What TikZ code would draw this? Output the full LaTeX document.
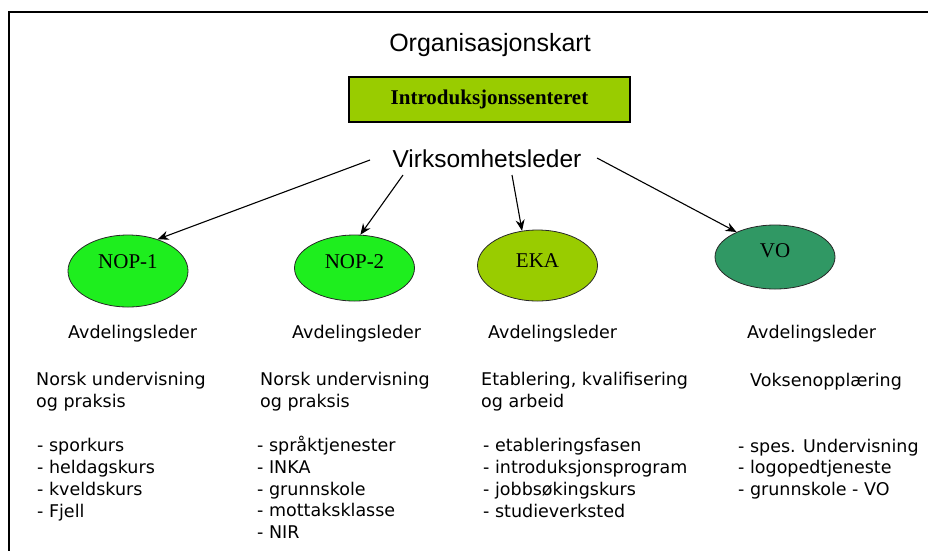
\documentclass[tikz,border=0pt]{standalone}
\usepackage{fontspec}
\setmainfont{Liberation Serif}
\newfontfamily\bodyfont{DejaVu Sans}
\newfontfamily\headfont{Liberation Sans}
\usepackage{tikz}
\usetikzlibrary{shapes.geometric, arrows.meta}
\definecolor{introgreen}{RGB}{153,204,0}
\definecolor{nopgreen}{RGB}{30,238,30}
\definecolor{ekagreen}{RGB}{153,204,0}
\definecolor{vogreen}{RGB}{48,152,100}
\definecolor{rimgray}{RGB}{40,40,40}
\tikzset{
  heading/.style={font=\headfont\fontsize{24.5}{28}\selectfont, inner sep=0pt, anchor=base},
  centrebox/.style={rectangle, draw, line width=1.2pt, fill=introgreen,
    minimum width=281pt, minimum height=45pt, inner sep=0pt,
    font=\bfseries\fontsize{21}{24}\selectfont},
  dept/.style={ellipse, draw=rimgray, line width=0.8pt, minimum width=120pt, inner sep=0pt},
  deptname/.style={font=\fontsize{21}{24}\selectfont, inner sep=0pt},
  bodytext/.style={font=\bodyfont\fontsize{17.5}{21.7}\selectfont, align=left,
    inner sep=0pt, anchor=base west},
  arrow/.style={-{Stealth[length=11pt, width=9pt]}, line width=1.1pt, color=black},
  frameline/.style={line width=1.8pt},
}

\begin{document}
\begin{tikzpicture}[x=1pt, y=-1pt]
  \useasboundingbox (0,0) rectangle (928,550);
  \clip (0,0) rectangle (928,550);
  \draw[frameline] (9,560) |- (940,12);

  % top of the chart
  \node[heading, font=\headfont\fontsize{25}{28}\selectfont] (title) at (490,51) {Organisasjonskart};
  \node[centrebox] (centre) at (489.5,99.5) {Introduksjonssenteret};
  \node[heading] (leader) at (487,167) {Virksomhetsleder};

  % departments
  \node[dept, fill=nopgreen, minimum height=72pt,
    label={[deptname, yshift=9.5pt]center:NOP-1}] (nop1) at (128,271) {};
  \node[dept, fill=nopgreen, minimum height=66pt,
    label={[deptname, yshift=6.5pt]center:NOP-2}] (nop2) at (354.5,268) {};
  \node[dept, fill=ekagreen, minimum height=71pt,
    label={[deptname, yshift=4.5pt]center:EKA}] (eka) at (537.5,265.5) {};
  \node[dept, fill=vogreen, minimum height=64pt,
    label={[deptname, yshift=6pt]center:VO}] (vo) at (775,257) {};

  \coordinate (from1) at (370,160);
  \coordinate (from2) at (403,175);
  \coordinate (from3) at (512,175);
  \coordinate (from4) at (597,158);
  \draw[arrow] (from1) -- (nop1.47);
  \draw[arrow] (from2) -- (nop2.80);
  \draw[arrow] (from3) -- (eka.114);
  \draw[arrow] (from4) -- (vo.147);

  % leaders
  \node[bodytext] (lead1) at (68,338) {Avdelingsleder};
  \node[bodytext] (lead2) at (292,338) {Avdelingsleder};
  \node[bodytext] (lead3) at (488,338) {Avdelingsleder};
  \node[bodytext] (lead4) at (747,338) {Avdelingsleder};

  % what each department does (base = last line)
  \node[bodytext] (desc1) at (36,407.5) {Norsk undervisning\\og praksis};
  \node[bodytext] (desc2) at (260,407.5) {Norsk undervisning\\og praksis};
  \node[bodytext] (desc3) at (481,407.5) {Etablering, kvalifisering\\og arbeid};
  \node[bodytext] (desc4) at (750,386) {Voksenopplæring};

  \node[bodytext] (list1) at (37,517)
    {- sporkurs\\- heldagskurs\\- kveldskurs\\- Fjell};
  \node[bodytext] (list2) at (257,538.5)
    {- språktjenester\\- INKA\\- grunnskole\\- mottaksklasse\\- NIR};
  \node[bodytext] (list3) at (483,517)
    {- etableringsfasen\\- introduksjonsprogram\\- jobbsøkingskurs\\- studieverksted};
  \node[bodytext] (list4) at (738,495.5)
    {- spes. Undervisning\\- logopedtjeneste\\- grunnskole - VO};
\end{tikzpicture}
\end{document}
